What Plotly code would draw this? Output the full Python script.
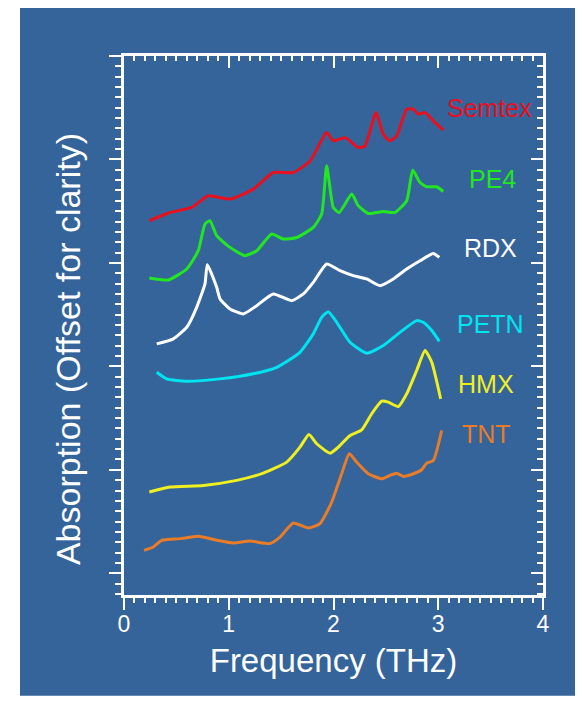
import plotly.graph_objects as go

# ---- data (frequency in THz, absorption offset for clarity) ----
semtex_x = [0.242, 0.439, 0.646, 0.805, 1.012, 1.234, 1.425, 1.616, 1.776, 1.935, 1.998, 2.110, 2.237, 2.301, 2.406, 2.475, 2.539, 2.603, 2.699, 2.762, 2.810, 2.874, 2.953, 3.048]
semtex_y = [3.407, 3.487, 3.536, 3.649, 3.617, 3.713, 3.874, 3.874, 3.986, 4.260, 4.180, 4.211, 4.115, 4.131, 4.453, 4.244, 4.180, 4.228, 4.486, 4.486, 4.437, 4.453, 4.373, 4.283]

pe4_x = [0.242, 0.423, 0.599, 0.709, 0.773, 0.821, 0.885, 1.012, 1.155, 1.267, 1.410, 1.521, 1.649, 1.807, 1.887, 1.935, 1.998, 2.055, 2.174, 2.237, 2.332, 2.476, 2.587, 2.699, 2.756, 2.826, 2.890, 2.985, 3.048]
pe4_y = [2.854, 2.835, 2.941, 3.118, 3.376, 3.408, 3.263, 3.150, 3.070, 3.118, 3.279, 3.231, 3.246, 3.343, 3.472, 3.938, 3.536, 3.488, 3.665, 3.552, 3.478, 3.497, 3.488, 3.601, 3.897, 3.777, 3.736, 3.736, 3.690]

rdx_x = [0.312, 0.471, 0.599, 0.694, 0.773, 0.795, 0.885, 0.917, 1.012, 1.139, 1.267, 1.425, 1.601, 1.712, 1.807, 1.935, 2.062, 2.189, 2.317, 2.444, 2.571, 2.699, 2.826, 2.953, 3.010]
rdx_y = [2.217, 2.266, 2.378, 2.571, 2.797, 2.983, 2.764, 2.652, 2.555, 2.507, 2.587, 2.700, 2.635, 2.700, 2.812, 2.990, 2.925, 2.877, 2.845, 2.780, 2.845, 2.941, 3.021, 3.092, 3.053]

petn_x = [0.312, 0.408, 0.599, 0.917, 1.234, 1.458, 1.680, 1.807, 1.887, 1.950, 2.031, 2.158, 2.317, 2.476, 2.635, 2.794, 2.857, 2.938, 3.010]
petn_y = [1.943, 1.879, 1.856, 1.879, 1.928, 1.991, 2.136, 2.314, 2.474, 2.529, 2.426, 2.233, 2.127, 2.201, 2.329, 2.442, 2.426, 2.346, 2.242]

hmx_x = [0.242, 0.439, 0.757, 1.076, 1.330, 1.553, 1.680, 1.766, 1.840, 1.967, 2.046, 2.158, 2.269, 2.365, 2.460, 2.523, 2.619, 2.699, 2.794, 2.874, 2.938, 3.023]
hmx_y = [0.785, 0.833, 0.849, 0.898, 0.968, 1.074, 1.219, 1.342, 1.252, 1.161, 1.219, 1.332, 1.387, 1.542, 1.663, 1.654, 1.612, 1.735, 1.960, 2.153, 2.040, 1.686]

tnt_x = [0.191, 0.280, 0.360, 0.535, 0.709, 0.885, 1.043, 1.203, 1.394, 1.489, 1.616, 1.759, 1.871, 1.983, 2.078, 2.151, 2.221, 2.332, 2.460, 2.539, 2.603, 2.666, 2.762, 2.842, 2.890, 2.953, 3.033]
tnt_y = [0.222, 0.254, 0.319, 0.335, 0.357, 0.319, 0.292, 0.312, 0.287, 0.350, 0.486, 0.437, 0.480, 0.688, 0.962, 1.155, 1.074, 0.962, 0.914, 0.946, 0.968, 0.936, 0.962, 1.001, 1.065, 1.091, 1.380]

names = ["Semtex", "PE4", "RDX", "PETN", "HMX", "TNT"]
colors = ["#e8101e", "#22e622", "#ffffff", "#00e4f0", "#f0f020", "#e87c28"]
label_x = [3.49, 3.52, 3.50, 3.50, 3.46, 3.46]
label_y = [4.50, 3.81, 3.14, 2.41, 1.83, 1.35]

x_ticks = [0, 1, 2, 3, 4]
x_tick_text = ["0", "1", "2", "3", "4"]

series = [(semtex_x, semtex_y), (pe4_x, pe4_y), (rdx_x, rdx_y),
          (petn_x, petn_y), (hmx_x, hmx_y), (tnt_x, tnt_y)]

FONT = "Arial, Liberation Sans, sans-serif"
WHITE = "#ffffff"
BLUE = "#346499"

fig = go.Figure()
for (xs, ys), nm, c in zip(series, names, colors):
    fig.add_trace(go.Scatter(x=xs, y=ys, mode="lines", name=nm,
                             line=dict(color=c, width=3, shape="spline", smoothing=0.5),
                             showlegend=False))

# dummy trace so the mirrored (top/right) axes render
fig.add_trace(go.Scatter(x=[None], y=[None], xaxis="x2", yaxis="y2",
                         showlegend=False, hoverinfo="skip"))

for nm, c, lx, ly in zip(names, colors, label_x, label_y):
    fig.add_annotation(x=lx, y=ly, xref="x", yref="y", text=nm, showarrow=False,
                       font=dict(family=FONT, size=25, color=c))

# y-axis title
fig.add_annotation(x=-0.134, y=0.456, xref="paper", yref="paper",
                   xanchor="center", yanchor="middle",
                   text="Absorption (Offset for clarity)", textangle=-90,
                   showarrow=False, font=dict(family=FONT, size=34, color=WHITE))

# blue panel
fig.add_shape(type="rect", xref="paper", yref="paper",
              x0=-0.2482, x1=1.2, y0=-0.187, y1=1.0909,
              fillcolor=BLUE, line=dict(width=0), layer="below")

xr = [0, 4]
yr = [-0.21, 5]

fig.update_layout(
    width=575, height=699,
    margin=dict(l=116, r=40, t=48, b=112),
    paper_bgcolor="white",
    plot_bgcolor="rgba(0,0,0,0)",
    xaxis=dict(range=xr, tickvals=x_ticks, ticktext=x_tick_text,
               ticks="outside", ticklen=12, tickwidth=2, tickcolor=WHITE,
               ticklabelstandoff=-6,
               minor=dict(dtick=0.1, tick0=0, ticks="outside", ticklen=5, tickwidth=2, tickcolor=WHITE),
               showline=True, linecolor=WHITE, linewidth=3,
               showgrid=False, zeroline=False,
               tickfont=dict(family=FONT, size=23, color=WHITE),
               title=dict(text="Frequency (THz)", standoff=14,
                          font=dict(family=FONT, size=33, color=WHITE))),
    xaxis2=dict(range=xr, overlaying="x", side="top", anchor="y",
                tick0=0, dtick=1, ticks="inside", ticklen=12, tickwidth=2, tickcolor=WHITE,
                minor=dict(dtick=0.1, tick0=0, ticks="inside", ticklen=5, tickwidth=2, tickcolor=WHITE),
                showline=True, linecolor=WHITE, linewidth=3, showticklabels=False,
                showgrid=False, zeroline=False),
    yaxis=dict(range=yr, tick0=0, dtick=1,
               ticks="outside", ticklen=12, tickwidth=2, tickcolor=WHITE,
               minor=dict(dtick=0.1, tick0=0, ticks="outside", ticklen=6, tickwidth=2, tickcolor=WHITE),
               showline=True, linecolor=WHITE, linewidth=3, showticklabels=False,
               showgrid=False, zeroline=False),
    yaxis2=dict(range=yr, overlaying="y", side="right", anchor="x",
                tick0=0, dtick=1, ticks="inside", ticklen=12, tickwidth=2, tickcolor=WHITE,
                minor=dict(dtick=0.1, tick0=0, ticks="inside", ticklen=6, tickwidth=2, tickcolor=WHITE),
                showline=True, linecolor=WHITE, linewidth=3, showticklabels=False,
                showgrid=False, zeroline=False),
)

fig.write_html("out.html")
